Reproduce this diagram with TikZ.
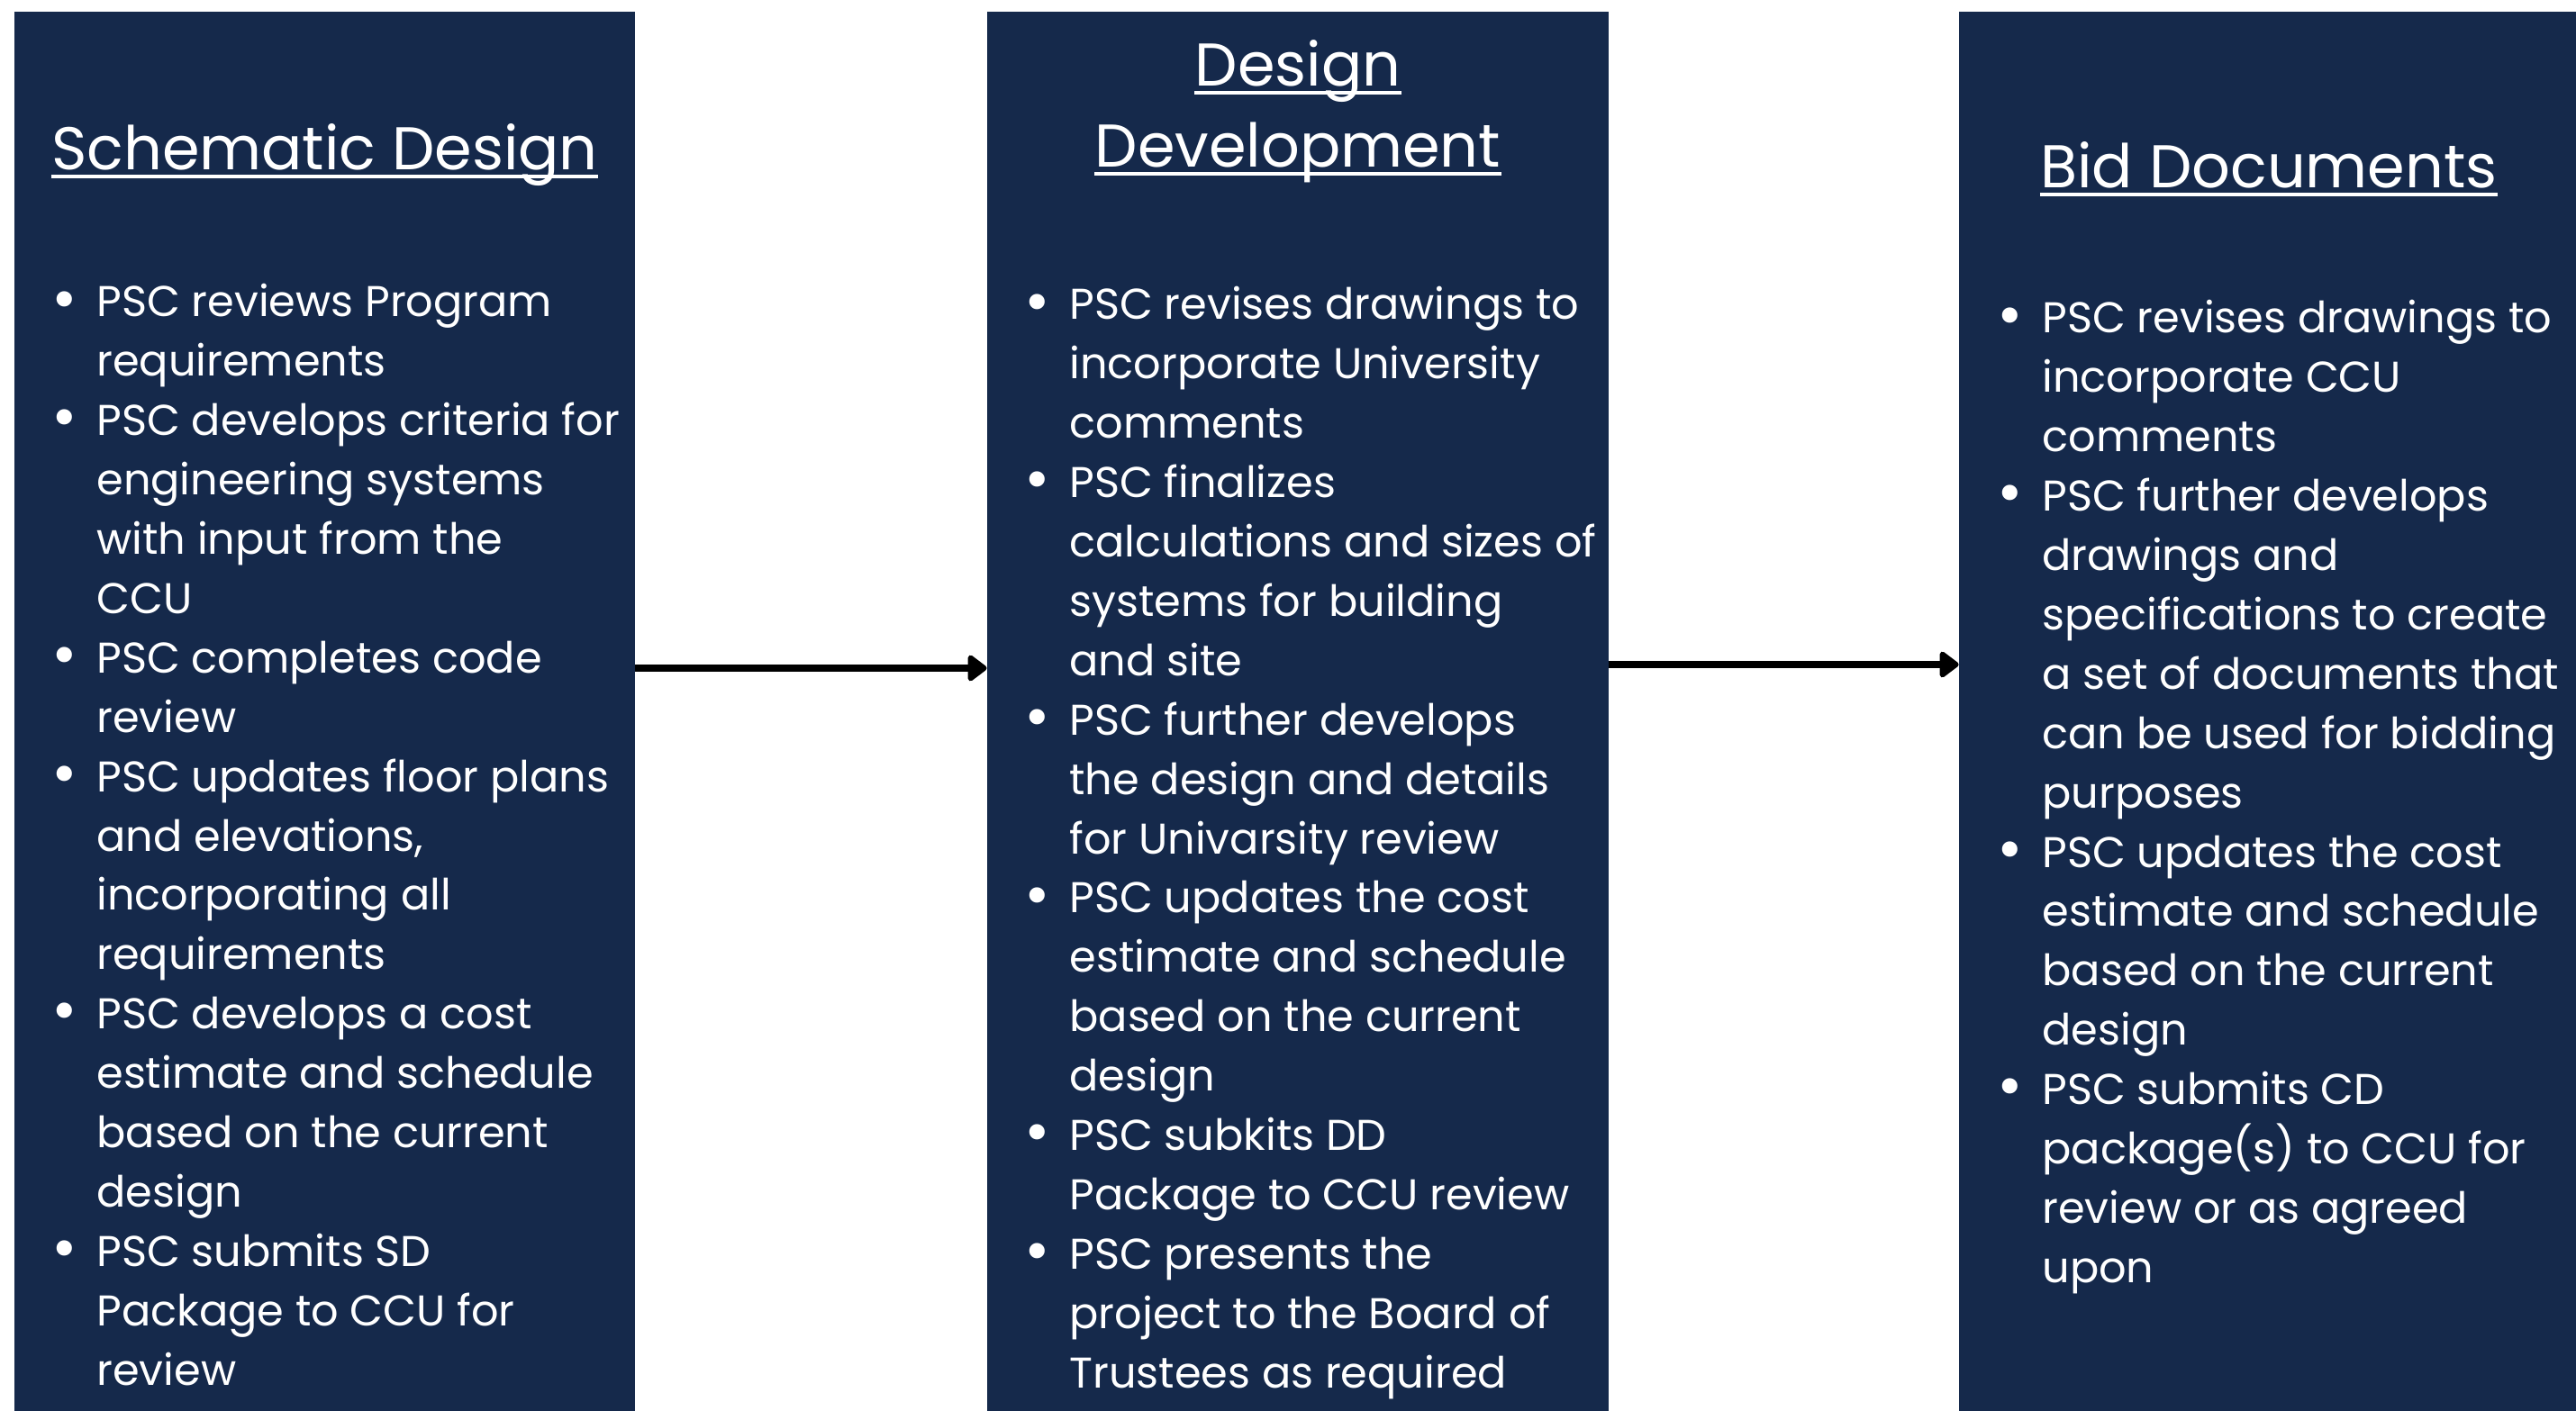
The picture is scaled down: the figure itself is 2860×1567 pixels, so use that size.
\documentclass[tikz,border=0pt]{standalone}
\usepackage{fontspec}
\setmainfont{Poppins}
\usetikzlibrary{arrows.meta,fit}
\definecolor{navy}{RGB}{21,41,75}
\newcommand\bul{\leavevmode\llap{\makebox[0pt]{\raisebox{-1.6pt}{\scalebox{1.45}{\textbullet}}}\hspace{18pt}}}
\newcommand\bodyfont{\fontsize{23.9}{32.95}\selectfont}
\begin{document}
\begin{tikzpicture}[x=0.5pt,y=-0.5pt,
  panel/.style={fill=navy, draw=none, inner sep=0pt},
  ttl/.style={text=white, font=\fontsize{33.5}{45}\selectfont, inner sep=0pt, anchor=base},
  body/.style={text=white, inner sep=0pt, anchor=base west},
  uline/.style={draw=white, line width=2pt},
  arr/.style={draw=black, line width=3.9pt, -{Triangle[round,length=11.5pt,width=16.5pt]}}]
\useasboundingbox (0,0) rectangle (2860,1567);
\fill[white] (0,0) rectangle (2860,1567);
% panels
\node[panel, fit={(16,13) (705,1567)}] (b1) {};
\node[panel, fit={(1096,13) (1786,1567)}] (b2) {};
\node[panel, fit={(2175,13) (2860,1567)}] (b3) {};
% arrows
\coordinate (a1) at (0,742);
\coordinate (a2) at (0,738);
\draw[arr] (b1.east |- a1) -- (b2.west |- a1);
\draw[arr] (b2.east |- a2) -- (b3.west |- a2);
% titles
\node[ttl] (t1) at (360.5,189) {Schematic Design};
\node[ttl] (t2a) at (1441,96) {Design};
\node[ttl] (t2b) at (1441,186) {Development};
\node[ttl] (t3) at (2519,209) {Bid Documents};
\foreach \t in {t1,t2a,t2b,t3}
  \draw[uline] ([yshift=-3.5pt]\t.base west) -- ([yshift=-3.5pt]\t.base east);
% bodies
\node[body] (l1) at (107,352) {\parbox[t]{320pt}{\bodyfont\raggedright
\bul PSC reviews Program\\
requirements\\
\bul PSC develops criteria for\\
engineering systems\\
with input from the\\
CCU\\
\bul PSC completes code\\
review\\
\bul PSC updates floor plans\\
and elevations,\\
incorporating all\\
requirements\\
\bul PSC develops a cost\\
estimate and schedule\\
based on the current\\
design\\
\bul PSC submits SD\\
Package to CCU for\\
review}};
\node[body] (l2) at (1187,355) {\parbox[t]{320pt}{\bodyfont\raggedright
\bul PSC revises drawings to\\
incorporate University\\
comments\\
\bul PSC finalizes\\
calculations and sizes of\\
systems for building\\
and site\\
\bul PSC further develops\\
the design and details\\
for Univarsity review\\
\bul PSC updates the cost\\
estimate and schedule\\
based on the current\\
design\\
\bul PSC subkits DD\\
Package to CCU review\\
\bul PSC presents the\\
project to the Board of\\
Trustees as required}};
\node[body] (l3) at (2267,370) {\parbox[t]{320pt}{\bodyfont\raggedright
\bul PSC revises drawings to\\
incorporate CCU\\
comments\\
\bul PSC further develops\\
drawings and\\
specifications to create\\
a set of documents that\\
can be used for bidding\\
purposes\\
\bul PSC updates the cost\\
estimate and schedule\\
based on the current\\
design\\
\bul PSC submits CD\\
package(s) to CCU for\\
review or as agreed\\
upon}};
\end{tikzpicture}
\end{document}
